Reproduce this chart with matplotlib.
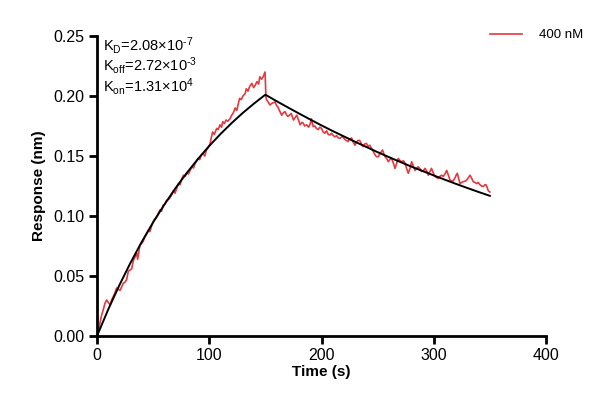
import matplotlib
matplotlib.use("Agg")
import matplotlib.pyplot as plt
from matplotlib.ticker import FormatStrFormatter

# ---- data ----
t_assoc = [0, 1.5, 2.7, 4, 5.6, 7, 8.6, 10, 11.6, 13, 14.5, 16, 17.5, 19, 20.5, 22, 23.4, 25, 26.4, 27.9,
           29.4, 30.9, 32.4, 34, 35.4, 36.2, 37.3, 38.3, 39.8, 41.2, 42.8, 44.3, 45.7, 47.2, 48.7, 50, 51, 53,
           54.5, 56, 57.5, 59, 60.5, 62, 64, 66.5, 68, 69.5, 71, 72.5, 74, 75.5, 77, 78.5, 80, 81.5, 83, 84.5,
           86, 87.5, 89, 90, 91.5, 93, 94.5, 96, 97.5, 99, 100.7, 102, 103, 104.5, 106.6, 108, 109.5, 111, 112,
           113.5, 115, 116.5, 118.5, 120, 121.5, 123, 124.5, 126, 127, 128.5, 130, 132, 133, 134.5, 136, 138,
           139.5, 141, 142.5, 144, 145, 146.5, 148, 149.7]
r_assoc = [0.000, 0.006, 0.011, 0.017, 0.022, 0.027, 0.030, 0.028, 0.026, 0.030, 0.033, 0.036, 0.040, 0.039,
           0.038, 0.041, 0.044, 0.045, 0.047, 0.054, 0.055, 0.056, 0.063, 0.066, 0.069, 0.064, 0.070, 0.076,
           0.077, 0.079, 0.083, 0.085, 0.088, 0.087, 0.092, 0.095, 0.097, 0.099, 0.102, 0.105, 0.104, 0.109,
           0.110, 0.113, 0.114, 0.1175, 0.121, 0.119, 0.123, 0.127, 0.126, 0.131, 0.134, 0.133, 0.136, 0.135,
           0.138, 0.141, 0.140, 0.144, 0.146, 0.148, 0.147, 0.151, 0.152, 0.150, 0.155, 0.157, 0.160, 0.166,
           0.170, 0.168, 0.173, 0.172, 0.176, 0.174, 0.1786, 0.177, 0.180, 0.179, 0.181, 0.184, 0.186, 0.190,
           0.188, 0.194, 0.198, 0.197, 0.200, 0.202, 0.206, 0.204, 0.208, 0.2105, 0.207, 0.209, 0.212, 0.210,
           0.216, 0.214, 0.216, 0.220]

t_dissoc = [150.5, 151, 152.5, 154, 156, 158.6, 160, 161, 162.5, 164.5, 166, 167.5, 169, 170, 171.5, 173, 175,
            176.5, 178, 179.5, 181, 182.5, 183.7, 185, 186.8, 188.5, 190, 191, 192.6, 194, 195.5, 197, 198.5,
            200, 201.5, 203, 204.5, 206, 207.6, 209, 210.5, 212, 213.5, 215, 216.5, 218, 219, 220.5, 222,
            223.6, 225, 226.8, 228, 229.8, 231, 232.5, 234, 235.5, 237, 238.5, 240, 241.5, 243, 244.7, 246,
            247.7, 249, 250.6, 252, 254.4, 255.5, 256.6, 258, 259.5, 261, 262.5, 264, 265.5, 267, 268.4, 270,
            271.4, 273, 274.4, 276, 277.3, 279, 280.3, 282, 283.3, 285, 286.2, 288, 289.2, 291, 292.2, 294,
            295.1, 296.5, 298, 299.5, 301, 302.5, 304, 305.5, 307, 308.5, 310, 311.5, 313, 314.5, 316, 316.8,
            318.5, 320, 321, 322.3, 323.4, 325, 326.3, 328, 329.3, 331, 332.3, 334, 335.2, 336.7, 338.2,
            339.5, 341.2, 342.7, 344.2, 345.5, 346.6, 347.5, 348.6, 350]
r_dissoc = [0.199, 0.197, 0.195, 0.1925, 0.194, 0.195, 0.192, 0.191, 0.188, 0.184, 0.186, 0.187, 0.184, 0.183,
            0.184, 0.1855, 0.180, 0.182, 0.184, 0.180, 0.176, 0.178, 0.1775, 0.175, 0.176, 0.174, 0.177, 0.181,
            0.1745, 0.175, 0.173, 0.172, 0.174, 0.173, 0.170, 0.169, 0.171, 0.168, 0.1675, 0.169, 0.167, 0.166,
            0.167, 0.165, 0.1648, 0.166, 0.166, 0.164, 0.163, 0.162, 0.164, 0.165, 0.162, 0.159, 0.161, 0.163,
            0.163, 0.160, 0.158, 0.160, 0.1605, 0.158, 0.159, 0.156, 0.154, 0.151, 0.1494, 0.1494, 0.152,
            0.155, 0.152, 0.1494, 0.148, 0.1453, 0.147, 0.148, 0.144, 0.1397, 0.144, 0.148, 0.146, 0.1453,
            0.146, 0.144, 0.139, 0.1356, 0.140, 0.1453, 0.141, 0.138, 0.140, 0.141, 0.139, 0.137, 0.138,
            0.1397, 0.137, 0.134, 0.137, 0.1397, 0.136, 0.133, 0.132, 0.1314, 0.133, 0.134, 0.133, 0.135,
            0.138, 0.134, 0.130, 0.129, 0.1286, 0.131, 0.134, 0.1356, 0.131, 0.127, 0.128, 0.1286, 0.129,
            0.130, 0.132, 0.134, 0.131, 0.1286, 0.128, 0.127, 0.128, 0.126, 0.125, 0.1245, 0.126, 0.126,
            0.124, 0.121, 0.120]

t_fit = [0, 10, 20, 30, 40, 50, 60, 70, 80, 90, 100, 110, 120, 130, 140, 150,
         160, 170, 180, 190, 200, 210, 220, 230, 240, 250, 260, 270, 280, 290, 300, 310, 320, 330, 340, 350]
r_fit = [0.0, 0.0221, 0.0425, 0.0613, 0.0787, 0.0947, 0.1095, 0.1233, 0.1359, 0.1476, 0.1584, 0.1683,
         0.1775, 0.1860, 0.1938, 0.2011,
         0.1957, 0.1905, 0.1854, 0.1804, 0.1755, 0.1708, 0.1663, 0.1618, 0.1575, 0.1532, 0.1491, 0.1451,
         0.1412, 0.1375, 0.1338, 0.1302, 0.1267, 0.1233, 0.1200, 0.1168]

series_label = "400 nM"
kinetics_lines = ["K$_\\mathregular{D}$=2.08×10$^\\mathregular{\u20107}$",
                  "K$_\\mathregular{off}$=2.72×10$^\\mathregular{\u20103}$",
                  "K$_\\mathregular{on}$=1.31×10$^\\mathregular{4}$"]
x_ticks = [0, 100, 200, 300, 400]
y_ticks = [0.00, 0.05, 0.10, 0.15, 0.20, 0.25]

# ---- style ----
plt.rcParams['font.family'] = ['Liberation Sans', 'DejaVu Sans']
plt.rcParams['mathtext.fontset'] = 'custom'
plt.rcParams['mathtext.rm'] = 'Liberation Sans'
plt.rcParams['mathtext.it'] = 'Liberation Sans'
plt.rcParams['mathtext.bf'] = 'Liberation Sans:bold'

fig = plt.figure(figsize=(6.02, 4.12), dpi=100)
ax = fig.add_axes([97/602, 1-336/412, 449/602, 300/412])

red = '#E5383F'
ax.plot(t_assoc + t_dissoc, r_assoc + r_dissoc, color=red, lw=1.2, label=series_label, zorder=2)
ax.plot(t_fit, r_fit, color='black', lw=1.4, zorder=3)

ax.set_xlim(0, 400)
ax.set_ylim(0, 0.25)
ax.set_xticks(x_ticks)
ax.set_yticks(y_ticks)
ax.yaxis.set_major_formatter(FormatStrFormatter('%.2f'))

for s in ['top', 'right']:
    ax.spines[s].set_visible(False)
for s in ['left', 'bottom']:
    ax.spines[s].set_linewidth(2)
ax.tick_params(direction='out', length=6, width=2, labelsize=11.5, pad=3)

ax.set_xlabel("Time (s)", fontsize=11, fontweight='bold', labelpad=1)
ax.set_ylabel("Response (nm)", fontsize=11, fontweight='bold', labelpad=5)

for line, yb in zip(kinetics_lines, [0.953, 0.885, 0.815]):
    ax.text(0.013, yb, line, transform=ax.transAxes, va='baseline', ha='left', fontsize=10.5)

leg = ax.legend(loc='center left', bbox_to_anchor=(0.875, 1.003), frameon=False, fontsize=9.5,
                handlelength=2.4, handletextpad=1.3, borderaxespad=0, borderpad=0)

fig.savefig("out.png", dpi=100)
